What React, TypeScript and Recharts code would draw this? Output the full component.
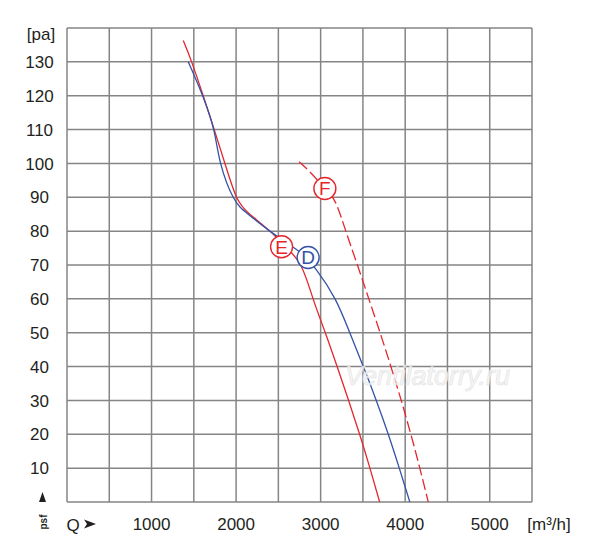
import React from 'react';
import { ComposedChart, Line, Scatter, XAxis, YAxis, CartesianGrid } from 'recharts';

const X_TICKS = [0, 500, 1000, 1500, 2000, 2500, 3000, 3500, 4000, 4500, 5000, 5500];
const X_LABELS = [1000, 2000, 3000, 4000, 5000];
const Y_TICKS = [0, 10, 20, 30, 40, 50, 60, 70, 80, 90, 100, 110, 120, 130, 140];
const Y_LABELS = [10, 20, 30, 40, 50, 60, 70, 80, 90, 100, 110, 120, 130];

const curveE_q = [1375, 1474, 1611, 1741, 1868, 2006, 2163, 2400, 2580, 2763, 2911, 3055, 3195, 3331, 3461, 3583, 3698];
const curveE_p = [136.3, 130, 120, 110, 100, 90, 85, 80, 75.5, 70, 60, 50, 40, 30, 20, 10, 0];

const curveD_q = [1434, 1604, 1735, 1817, 1966, 2143, 2400, 2600, 2770, 2952, 3170, 3345, 3505, 3658, 3800, 3930, 4055];
const curveD_p = [130, 120, 110, 100, 90, 85, 80, 76.5, 73.5, 68.5, 60, 50, 40, 30, 20, 10, 0];

const curveF_q = [2746, 2900, 3050, 3175, 3298, 3435, 3570, 3703, 3831, 3953, 4067, 4173, 4273];
const curveF_p = [100.5, 96.8, 92.6, 88.5, 80, 70, 60, 50, 40, 30, 20, 10, 0];

const marker_letters = ['E', 'D', 'F'];
const marker_q = [2538, 2852, 3050];
const marker_p = [75.4, 72.2, 92.6];

const RED = '#e4262d';
const BLUE = '#3353a6';
const marker_colors = [RED, BLUE, RED];

const zip = (qs: number[], ps: number[]) => qs.map((q, i) => ({ q, p: ps[i] }));
const dataE = zip(curveE_q, curveE_p);
const dataD = zip(curveD_q, curveD_p);
const dataF = zip(curveF_q, curveF_p);
const markers = marker_letters.map((letter, i) => ({ q: marker_q[i], p: marker_p[i], letter, color: marker_colors[i] }));

const FONT = '"Liberation Sans", Arial, Helvetica, sans-serif';
const TEXT = '#231f20';
const FS = 17;

const XTick = (props: any) => {
  const { x, payload } = props;
  if (!X_LABELS.includes(payload.value)) return null;
  return (
    <text x={x} y={521.5} textAnchor="middle" fontFamily={FONT} fontSize={FS} fill={TEXT}>
      {payload.value}
    </text>
  );
};

const YTick = (props: any) => {
  const { y, payload } = props;
  if (payload.value === 140) {
    return (
      <text x={33} y={y + 12} textAnchor="middle" fontFamily={FONT} fontSize={FS} fill={TEXT}>
        [pa]
      </text>
    );
  }
  if (!Y_LABELS.includes(payload.value)) return null;
  return (
    <text x={31.5} y={y + 6.2} textAnchor="middle" fontFamily={FONT} fontSize={FS} fill={TEXT}>
      {payload.value}
    </text>
  );
};

const MarkerShape = (props: any) => {
  const { cx, cy, payload } = props;
  return (
    <g>
      <circle cx={cx} cy={cy} r={11} fill="#ffffff" stroke={payload.color} strokeWidth={1.4} />
      <text x={cx} y={cy + 6.8} textAnchor="middle" fontFamily={FONT} fontSize={19} fill={payload.color}>
        {payload.letter}
      </text>
    </g>
  );
};

export default function App() {
  const W = 584;
  const H = 539;
  return (
    <div style={{ position: 'relative', width: W, height: H, background: '#fff' }}>
      <ComposedChart width={W} height={H} margin={{ top: 20, right: 60, bottom: 0, left: 0 }}>
        <CartesianGrid stroke="#858585" strokeWidth={1.5} />
        <XAxis
          type="number"
          dataKey="q"
          domain={[0, 5500]}
          ticks={X_TICKS}
          interval={0}
          axisLine={false}
          tickLine={false}
          height={45}
          tick={<XTick />}
          allowDataOverflow
        />
        <YAxis
          type="number"
          dataKey="p"
          domain={[0, 140]}
          ticks={Y_TICKS}
          interval={0}
          axisLine={false}
          tickLine={false}
          width={59}
          tick={<YTick />}
          allowDataOverflow
        />
        <Line data={dataE} dataKey="p" type="natural" stroke={RED} strokeWidth={1.3} dot={false} isAnimationActive={false} />
        <Line data={dataD} dataKey="p" type="natural" stroke={BLUE} strokeWidth={1.3} dot={false} isAnimationActive={false} />
        <Line data={dataF} dataKey="p" type="natural" stroke={RED} strokeWidth={1.3} strokeDasharray="11 4" dot={false} isAnimationActive={false} />
        <Scatter data={markers} dataKey="p" shape={<MarkerShape />} isAnimationActive={false} />
      </ComposedChart>
      <svg
        width={W}
        height={H}
        style={{ position: 'absolute', left: 0, top: 0, pointerEvents: 'none' }}
      >
        <text x={337} y={377} fontFamily={FONT} fontStyle="italic" fontSize={27} fill="#f6f6f6" stroke="#e0e0e0" strokeWidth={0.7} opacity={0.85}>
          Ventilatorry.ru
        </text>
        <polygon points="31,494 34.5,484 38,494" fill={TEXT} />
        <text x={0} y={0} transform="translate(38.5 514) rotate(-90)" textAnchor="middle" fontFamily={FONT} fontSize={10} fontWeight="bold" fill={TEXT}>
          psf
        </text>
        <text x={58.5} y={523} fontFamily={FONT} fontSize={FS} fill={TEXT}>Q</text>
        <polygon points="76,511.5 88,516 76,520.5 79,516" fill={TEXT} />
        <text x={541} y={521.5} textAnchor="middle" fontFamily={FONT} fontSize={FS} fill={TEXT}>[m³/h]</text>
      </svg>
    </div>
  );
}
